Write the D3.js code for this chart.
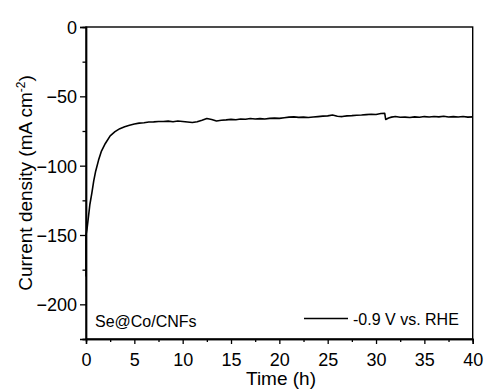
<!DOCTYPE html>
<html><head><meta charset="utf-8">
<script src="https://cdn.jsdelivr.net/npm/d3@7"></script>
<style>body{margin:0;background:#fff}svg{display:block}text{font-family:Arial,"Liberation Sans",sans-serif;fill:#000}</style>
</head><body><svg id="c" width="485" height="390"></svg>
<script>
const time = [0,0,0.02,0.05,0.1,0.2,0.3,0.4,0.6,0.8,1.0,1.3,1.6,2.0,2.5,3.0,3.5,4.0,4.5,5,5.5,6,6.5,7,7.5,8,8.5,9,9.5,10,10.5,11,11.5,12,12.5,13,13.5,14,14.5,15,15.5,16,16.5,17,17.5,18,18.5,19,19.5,20,20.5,21,21.5,22,22.5,23,23.5,24,24.5,25,25.5,26,26.5,27,27.5,28,28.5,29,29.5,30,30.5,30.9,31.0,31.3,31.6,32,32.5,33,33.5,34,34.5,35,35.5,36,36.5,37,37.5,38,38.5,39,39.5,40];
const current = [-180,-150,-149,-148,-146,-140,-134,-128,-120,-111,-104,-96,-89.5,-84,-78.5,-75.5,-73.3,-72,-70.9,-70,-69.3,-69,-68.5,-68.4,-68.1,-68.2,-67.9,-68.3,-67.8,-68.1,-68.5,-68.9,-68.3,-67.2,-66,-66.7,-67.8,-67.3,-67,-66.6,-66.9,-66.3,-66.5,-66,-66.3,-66.1,-66.4,-65.9,-65.7,-65.9,-65.4,-65,-64.8,-65.2,-65,-65.3,-64.9,-64.6,-64.3,-64.1,-63.5,-64.4,-64.6,-64.1,-63.9,-63.6,-63.5,-63.2,-62.9,-63.1,-62.4,-62.3,-66.7,-65.6,-65,-64.6,-65.1,-65,-65.3,-64.8,-65.1,-64.6,-64.9,-64.5,-64.8,-64.4,-64.9,-64.6,-64.9,-64.5,-65,-64.8];
const xTicks = [0,5,10,15,20,25,30,35,40];
const yTicks = [0,-50,-100,-150,-200];
const xMinor = [2.5,7.5,12.5,17.5,22.5,27.5,32.5,37.5];
const yMinor = [-25,-75,-125,-175,-225];
const sampleLabel = "Se@Co/CNFs";
const legendLabel = "-0.9 V vs. RHE";

const svg = d3.select("#c");
const L=86, R=472.7, T=27, B=339;
const x = d3.scaleLinear().domain([0,40]).range([L,R]);
const y = d3.scaleLinear().domain([-225,0]).range([B,T]);

svg.append("rect").attr("x",L).attr("y",T).attr("width",R-L).attr("height",B-T)
  .attr("fill","none").attr("stroke","#000").attr("stroke-width",1.4);

const xAx = svg.append("g").attr("transform",`translate(0,${B})`)
  .call(d3.axisBottom(x).tickValues(xTicks).tickSize(5).tickPadding(9).tickFormat(d3.format("d")));
const xAxm = svg.append("g").attr("transform",`translate(0,${B})`)
  .call(d3.axisBottom(x).tickValues(xMinor).tickSize(3).tickFormat(""));
const yAx = svg.append("g").attr("transform",`translate(${L},0)`)
  .call(d3.axisLeft(y).tickValues(yTicks).tickSize(6).tickPadding(3).tickFormat(d3.format("d")));
const yAxm = svg.append("g").attr("transform",`translate(${L},0)`)
  .call(d3.axisLeft(y).tickValues(yMinor).tickSize(3.5).tickFormat(""));
[xAx,xAxm,yAx,yAxm].forEach(g=>{
  g.select(".domain").attr("stroke","#000").attr("stroke-width",1.4);
  g.selectAll(".tick line").attr("stroke","#000").attr("stroke-width",1.3);
  g.selectAll(".tick text").attr("font-size",18).attr("font-family",'Arial,"Liberation Sans",sans-serif').attr("fill","#000");
});
yAx.selectAll(".tick text").attr("dy","0.36em");

const line = d3.line().x((d,i)=>x(time[i])).y((d,i)=>y(current[i]));
svg.append("path").datum(current).attr("d",line).attr("fill","none")
  .attr("stroke","#000").attr("stroke-width",1.6).attr("stroke-linejoin","round");

svg.append("text").attr("x",281).attr("y",385).attr("text-anchor","middle")
  .attr("font-size",19).text("Time (h)");
const yl = svg.append("text").attr("transform",`translate(31.5,${(T+B)/2}) rotate(-90)`)
  .attr("text-anchor","middle").attr("font-size",19);
yl.append("tspan").text("Current density (mA cm");
yl.append("tspan").attr("dy",-7).attr("font-size",12).text("-2");
yl.append("tspan").attr("dy",7).text(")");

svg.append("text").attr("x",95).attr("y",326.7).attr("font-size",16).text(sampleLabel);
svg.append("line").attr("x1",304).attr("x2",348).attr("y1",318.5).attr("y2",318.5)
  .attr("stroke","#000").attr("stroke-width",1.6);
svg.append("text").attr("x",353).attr("y",325).attr("font-size",16).text(legendLabel);
</script></body></html>
